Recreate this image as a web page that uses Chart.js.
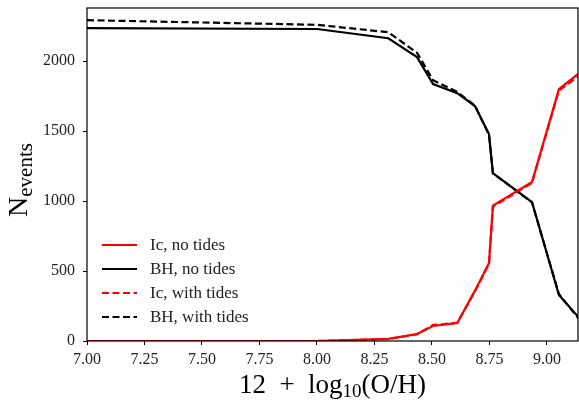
<!DOCTYPE html>
<html lang="en">
<head>
    <meta charset="UTF-8">
    <title>N events vs metallicity</title>
    <style>
        html, body { margin: 0; padding: 0; background: #fff; }
        #wrap { width: 579px; height: 401px; position: relative; }
    </style>
</head>
<body>
    <div id="wrap"><canvas id="chart" width="579" height="401"></canvas></div>
    <script src="https://cdn.jsdelivr.net/npm/chart.js"></script>
    <script>
    // metallicity grid, 12 + log10(O/H)
    const metallicity = [7.00, 8.00, 8.31, 8.435, 8.505, 8.61, 8.687, 8.748, 8.765, 8.935, 9.052, 9.14];
    // counts
    const icNoTides   = [0, 0, 15, 50, 107, 129, 360, 557, 968, 1136, 1800, 1915];
    const bhNoTides   = [2236, 2230, 2164, 2029, 1836, 1771, 1679, 1479, 1200, 993, 329, 165];
    const icWithTides = [0, 0, 14, 48, 115, 130, 355, 550, 960, 1130, 1790, 1895];
    const bhWithTides = [2293, 2260, 2207, 2060, 1864, 1780, 1682, 1472, 1198, 990, 336, 155];
    const xTicks = [7.00, 7.25, 7.50, 7.75, 8.00, 8.25, 8.50, 8.75, 9.00];
    const yTicks = [0, 500, 1000, 1500, 2000];

    const serif = "'Liberation Serif', 'DejaVu Serif', serif";

    function pts(ys) {
        return metallicity.map((x, i) => ({ x: x, y: ys[i] }));
    }

    function ds(label, ys, color, dashed) {
        return {
            label: label,
            data: pts(ys),
            borderColor: color,
            backgroundColor: color,
            borderWidth: 2.2,
            borderDash: dashed ? [7, 3.5] : [],
            pointRadius: 0,
            tension: 0,
            fill: false
        };
    }

    // draw a run of [text, font, baseline shift] pieces starting at x
    function runWidth(ctx, parts) {
        let w = 0;
        parts.forEach(p => { ctx.font = p[1]; w += ctx.measureText(p[0]).width; });
        return w;
    }
    function drawRun(ctx, parts, x, y) {
        parts.forEach(p => {
            ctx.font = p[1];
            ctx.fillText(p[0], x, y + p[2]);
            x += ctx.measureText(p[0]).width;
        });
    }

    // frame, axis titles and legend drawn on the canvas
    const extras = {
        id: 'extras',
        afterDraw(chart) {
            const ctx = chart.ctx;
            const a = chart.chartArea;
            ctx.save();
            ctx.strokeStyle = '#000';
            ctx.lineWidth = 1.2;
            ctx.strokeRect(a.left, a.top, a.right - a.left, a.bottom - a.top);

            // x title: 12 + log10(O/H)
            ctx.fillStyle = '#000';
            ctx.textBaseline = 'alphabetic';
            const big = '27px ' + serif, small = '19px ' + serif;
            const xparts = [['12\u2002+\u2002log', big, 0], ['10', small, 4], ['(O/H)', big, 0]];
            let w = runWidth(ctx, xparts);
            drawRun(ctx, xparts, (a.left + a.right) / 2 - w / 2, 393);

            // y title: N_events
            ctx.translate(27, 180);
            ctx.rotate(-Math.PI / 2);
            const yparts = [['N', '28px ' + serif, 0], ['events', '21px ' + serif, 5]];
            w = runWidth(ctx, yparts);
            drawRun(ctx, yparts, -w / 2, 0);
            ctx.restore();

            // legend, lower left inside the axes
            ctx.save();
            ctx.font = '17px ' + serif;
            ctx.textBaseline = 'middle';
            chart.data.datasets.forEach((d, i) => {
                const y = 245 + i * 24;
                ctx.strokeStyle = d.borderColor;
                ctx.lineWidth = 2.2;
                ctx.setLineDash(d.borderDash);
                ctx.beginPath();
                ctx.moveTo(102, y);
                ctx.lineTo(137, y);
                ctx.stroke();
                ctx.setLineDash([]);
                ctx.fillStyle = '#222';
                ctx.fillText(d.label, 150, y + 1);
            });
            ctx.restore();
        }
    };

    new Chart(document.getElementById('chart'), {
        type: 'line',
        data: {
            datasets: [
                ds('Ic, no tides', icNoTides, '#ff0000', false),
                ds('BH, no tides', bhNoTides, '#000000', false),
                ds('Ic, with tides', icWithTides, '#ff0000', true),
                ds('BH, with tides', bhWithTides, '#000000', true)
            ]
        },
        options: {
            responsive: false,
            animation: false,
            layout: { padding: { top: 8, right: 1, left: 0, bottom: 0 } },
            plugins: {
                legend: { display: false },
                tooltip: { enabled: false }
            },
            scales: {
                x: {
                    type: 'linear',
                    min: 7.0,
                    max: 9.135,
                    afterBuildTicks: s => { s.ticks = xTicks.map(v => ({ value: v })); },
                    afterFit: s => { s.height = 60; s.paddingLeft = 0; s.paddingRight = 0; },
                    grid: { drawOnChartArea: false, tickLength: 4, color: '#000', tickWidth: 1 },
                    border: { display: false },
                    ticks: {
                        color: '#222',
                        font: { family: serif, size: 16 },
                        padding: 5,
                        maxRotation: 0,
                        callback: v => v.toFixed(2)
                    }
                },
                y: {
                    type: 'linear',
                    min: 0,
                    max: 2380,
                    afterBuildTicks: s => { s.ticks = yTicks.map(v => ({ value: v })); },
                    afterFit: s => { s.width = 87; s.paddingTop = 0; s.paddingBottom = 0; },
                    grid: { drawOnChartArea: false, tickLength: 4, color: '#000', tickWidth: 1 },
                    border: { display: false },
                    ticks: {
                        color: '#222',
                        font: { family: serif, size: 16 },
                        padding: 8,
                        callback: v => String(v)
                    }
                }
            }
        },
        plugins: [extras]
    });
    </script>
</body>
</html>
